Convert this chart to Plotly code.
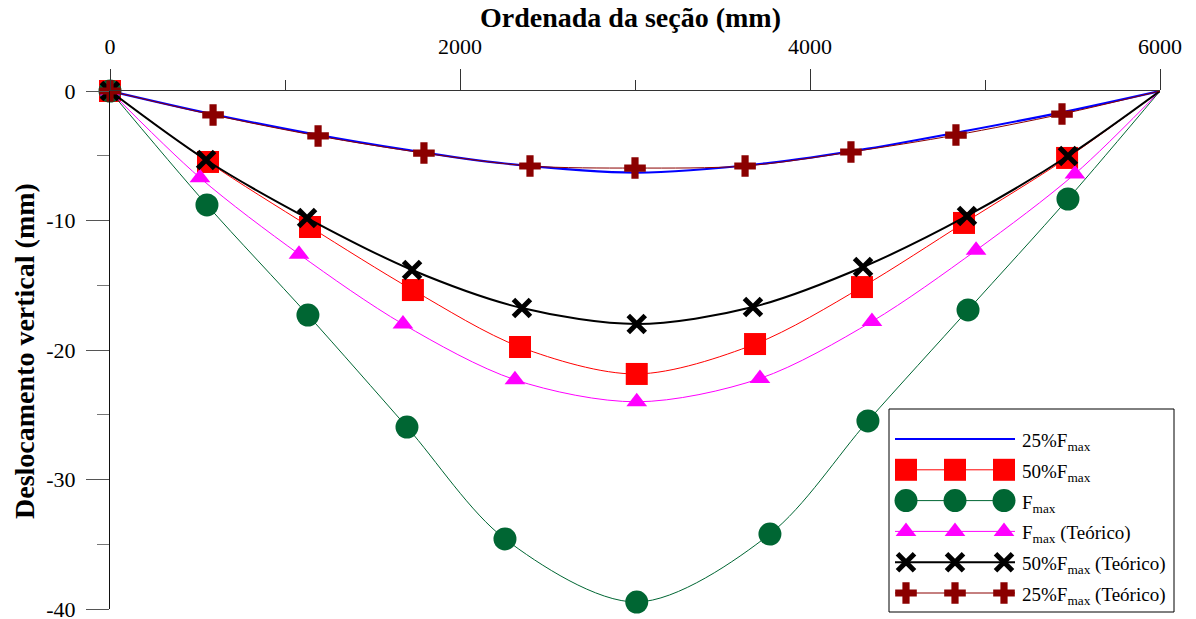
import plotly.graph_objects as go

# Ordenada da seção (mm) e deslocamento vertical (mm) de cada série
x_25 = [0, 554, 1131, 1697, 2257, 3010, 3771, 4331, 4903, 5474, 6000]
y_25 = [0, -1.70, -3.25, -4.55, -5.60, -6.30, -5.55, -4.45, -3.05, -1.55, 0]

x_50 = [0, 560, 1143, 1731, 2343, 3010, 3686, 4297, 4880, 5469, 6000]
y_50 = [0, -5.48, -10.50, -15.37, -19.77, -21.85, -19.54, -15.14, -10.19, -5.17, 0]

x_fmax = [0, 554, 1131, 1697, 2257, 3010, 3771, 4331, 4903, 5474, 6000]
y_fmax = [0, -8.80, -17.30, -25.95, -34.59, -39.46, -34.21, -25.48, -16.91, -8.34, 0]

x_fmax_teo = [0, 514, 1080, 1674, 2314, 3010, 3714, 4354, 4949, 5514, 6000]
y_fmax_teo = [0, -6.70, -12.60, -18.00, -22.30, -24.00, -22.20, -17.80, -12.30, -6.40, 0]

x_50_teo = [0, 549, 1126, 1726, 2354, 3010, 3674, 4303, 4897, 5474, 6000]
y_50_teo = [0, -5.33, -9.81, -13.82, -16.76, -17.99, -16.68, -13.59, -9.65, -5.02, 0]

x_25_teo = [0, 589, 1189, 1794, 2400, 3000, 3629, 4234, 4834, 5440, 6000]
y_25_teo = [0, -1.85, -3.47, -4.79, -5.79, -5.95, -5.79, -4.71, -3.40, -1.78, 0]

x_ticks = [0, 2000, 4000, 6000]
y_ticks = [0, -10, -20, -30, -40]
y_tick_text = ["0", "-10", "-20", "-30", "-40"]

FONT = "Liberation Serif, Times New Roman, serif"

# page geometry (px)
W, H = 1196, 619
PL, PR, PT, PB = 110, 1160, 91, 609

series = [
    dict(name="25%F<sub>max</sub>", x=x_25, y=y_25, color="#0000FF", width=2.2,
         symbol=None),
    dict(name="50%F<sub>max</sub>", x=x_50, y=y_50, color="#FF0000", width=1,
         symbol="square", size=22, mline=0),
    dict(name="F<sub>max</sub>", x=x_fmax, y=y_fmax, color="#006633", width=1,
         symbol="circle", size=23, mline=0),
    dict(name="F<sub>max</sub> (Teórico)", x=x_fmax_teo, y=y_fmax_teo, color="#FF00FF", width=1,
         symbol="triangle-up", size=18, mline=0),
    dict(name="50%F<sub>max</sub> (Teórico)", x=x_50_teo, y=y_50_teo, color="#000000", width=2,
         symbol="x-thin", size=17, mline=5),
    dict(name="25%F<sub>max</sub> (Teórico)", x=x_25_teo, y=y_25_teo, color="#8B0000", width=1,
         symbol="cross", size=18, mline=0),
]

fig = go.Figure()

for s in series:
    n = len(s["x"])
    if s["symbol"] is None:
        mode = "lines"
        marker = None
    else:
        mode = "lines+markers"
        # no marker at the far support
        sizes = [s["size"]] * (n - 1) + [0]
        marker = dict(symbol=s["symbol"], size=sizes, color=s["color"], opacity=1,
                      line=dict(color=s["color"], width=s["mline"]))
    fig.add_trace(go.Scatter(
        x=s["x"], y=s["y"], mode=mode, opacity=1,
        line=dict(color=s["color"], width=s["width"], shape="spline", smoothing=0.9),
        marker=marker, showlegend=False, hoverinfo="skip", cliponaxis=False,
    ))

# legend drawn on an overlay axis in page-pixel units
LEG_X0, LEG_X1, LEG_Y0, LEG_Y1 = 889, 1174, 409, 612
ROW0, ROW_STEP = 439, 30.8
SAMPLE_X = [895, 955, 1015]
MARK_X = [906, 955, 1004]
TEXT_X = 1020

annotations = []
for i, s in enumerate(series):
    ry = ROW0 + i * ROW_STEP
    fig.add_trace(go.Scatter(
        x=[SAMPLE_X[0], SAMPLE_X[2]], y=[ry, ry], mode="lines",
        line=dict(color=s["color"], width=s["width"]),
        xaxis="x2", yaxis="y2", showlegend=False, hoverinfo="skip",
    ))
    if s["symbol"] is not None:
        fig.add_trace(go.Scatter(
            x=MARK_X, y=[ry] * 3, mode="markers",
            marker=dict(symbol=s["symbol"], size=s["size"], color=s["color"], opacity=1,
                        line=dict(color=s["color"], width=s["mline"])),
            xaxis="x2", yaxis="y2", showlegend=False, hoverinfo="skip",
        ))
    annotations.append(dict(
        x=TEXT_X, y=ry + 3, xref="x2", yref="y2", text=s["name"], showarrow=False,
        xanchor="left", yanchor="middle", font=dict(family=FONT, size=19, color="black"),
    ))

def px_x(p):
    return (p - PL) / (PR - PL)

def px_y(p):
    return (PB - p) / (PB - PT)

shapes = [dict(type="rect", xref="paper", yref="paper",
               x0=px_x(LEG_X0), x1=px_x(LEG_X1), y0=px_y(LEG_Y1), y1=px_y(LEG_Y0),
               line=dict(color="black", width=1), fillcolor="rgba(0,0,0,0)", layer="above")]

annotations.append(dict(
    x=px_x(630), y=px_y(18), xref="paper", yref="paper", text="<b>Ordenada da seção (mm)</b>",
    showarrow=False, xanchor="center", yanchor="middle",
    font=dict(family=FONT, size=28, color="black"),
))
annotations.append(dict(
    x=px_x(24), y=px_y(351), xref="paper", yref="paper", text="<b>Deslocamento vertical (mm)</b>",
    showarrow=False, xanchor="center", yanchor="middle", textangle=-90,
    font=dict(family=FONT, size=28, color="black"),
))

fig.update_layout(
    width=W, height=H,
    margin=dict(l=PL, r=W - PR, t=PT, b=H - PB, autoexpand=False),
    paper_bgcolor="white", plot_bgcolor="white",
    font=dict(family=FONT, size=22, color="black"),
    xaxis=dict(
        side="top", range=[0, 6000], tickvals=x_ticks, ticks="outside", ticklen=21,
        tickcolor="#333333", tickwidth=1, showline=True, linecolor="#333333", linewidth=1,
        showgrid=False, zeroline=False, tickfont=dict(family=FONT, size=22, color="black"),
        ticklabelstandoff=6, ticklabeloverflow="allow", automargin=False,
        minor=dict(dtick=1000, tick0=0, ticks="outside", ticklen=10, tickcolor="#333333",
                   showgrid=False),
    ),
    yaxis=dict(
        range=[-40, 0], tickvals=y_ticks, ticktext=y_tick_text, ticks="outside", ticklen=23,
        tickcolor="#555555", tickwidth=1, showline=True, linecolor="#111111", linewidth=1,
        showgrid=False, zeroline=False, tickfont=dict(family=FONT, size=22, color="black"),
        ticklabelstandoff=6, ticklabeloverflow="allow", automargin=False,
        minor=dict(dtick=5, tick0=0, ticks="outside", ticklen=12, tickcolor="#777777",
                   showgrid=False),
    ),
    xaxis2=dict(range=[PL, PR], overlaying="x", anchor="y2", visible=False, domain=[0, 1],
                automargin=False),
    yaxis2=dict(range=[PB, PT], overlaying="y", anchor="x2", visible=False, domain=[0, 1],
                automargin=False),
    shapes=shapes,
    annotations=annotations,
)

fig.write_html("out.html")
